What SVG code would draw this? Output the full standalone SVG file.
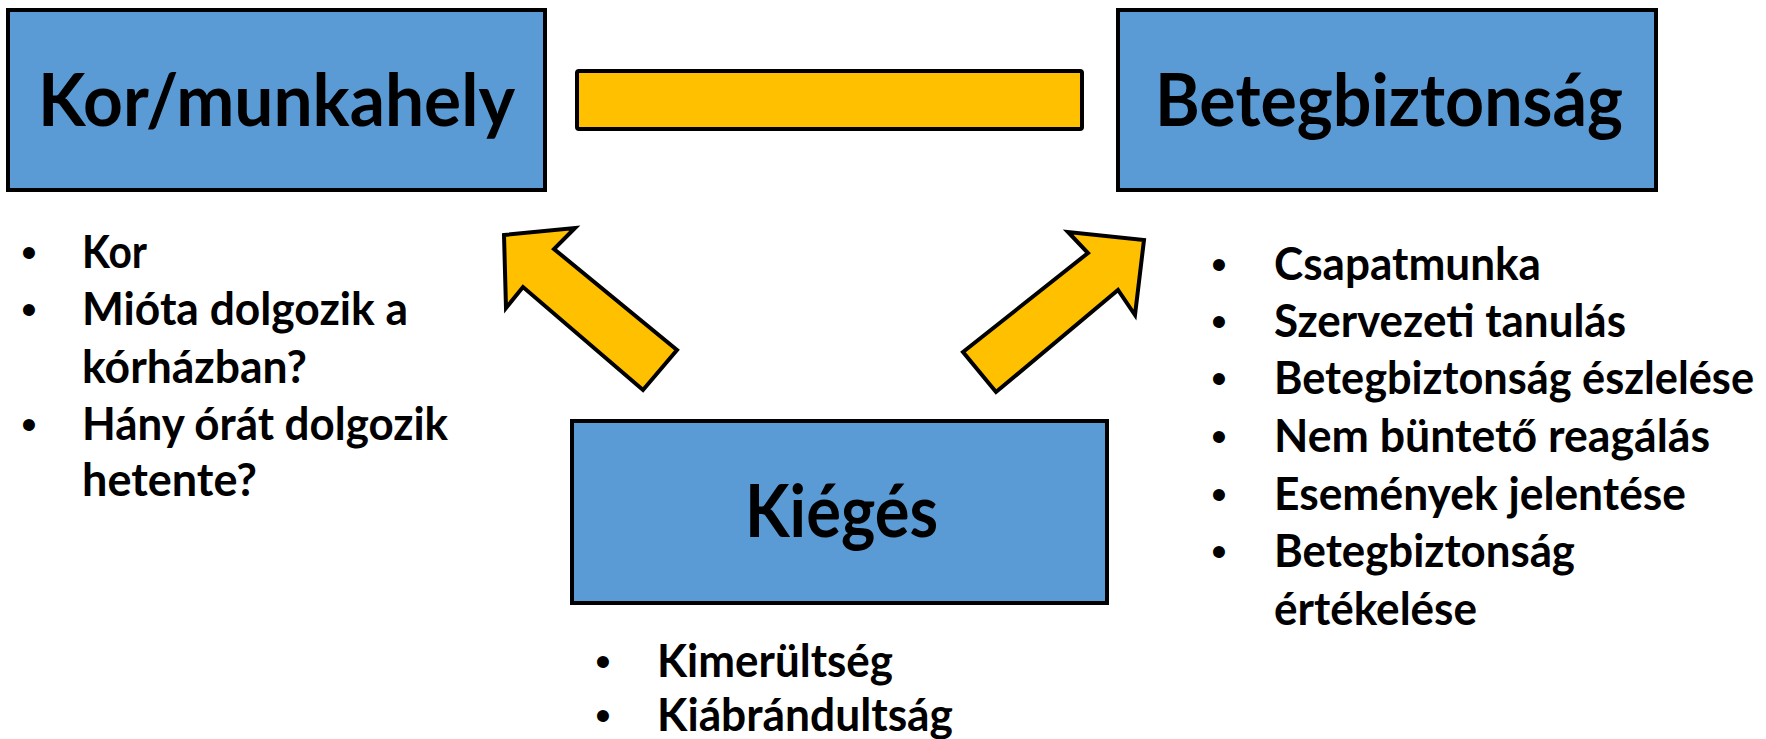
<svg xmlns="http://www.w3.org/2000/svg" width="1766" height="739" viewBox="0 0 1766 739">
<style>
.box{fill:#5B9BD5;stroke:#000;stroke-width:4}
.conn{fill:#FFC000;stroke:#000;stroke-width:4;stroke-linejoin:miter}
.title{font-family:Lato,"Liberation Sans",sans-serif;font-weight:bold;font-size:73px;fill:#000}
.item{font-family:Lato,"Liberation Sans",sans-serif;font-weight:bold;font-size:46px;fill:#000}
.bul{font-family:"Liberation Sans",Arial,sans-serif;font-size:44px;fill:#000;text-anchor:middle}
</style>
<rect width="1766" height="739" fill="#fff"/>
<g id="connectors">
<rect class="conn" x="577" y="71" width="505" height="58" rx="2"/>
<polygon class="conn" points="504,235 575,228 554,249 677,350 643,390 523,287 506,308"/>
<polygon class="conn" points="1144,240 1135,315 1118,290 996,392 963,352 1088,253 1068,232"/>
</g>
<g id="kor-munkahely">
<rect class="box" x="8" y="10" width="537" height="180"/>
<text class="title" x="38" y="126" textLength="477" lengthAdjust="spacingAndGlyphs">Kor/munkahely</text>
</g>
<g id="betegbiztonsag">
<rect class="box" x="1118" y="10" width="538" height="180"/>
<text class="title" x="1155" y="126" textLength="468" lengthAdjust="spacingAndGlyphs">Betegbiztonság</text>
</g>
<g id="kieges">
<rect class="box" x="572" y="421" width="535" height="182"/>
<text class="title" x="745" y="537" textLength="193" lengthAdjust="spacingAndGlyphs">Kiégés</text>
</g>
<g id="list-kor">
<text class="bul" x="29" y="268">•</text>
<text class="item" x="82" y="268" textLength="65" lengthAdjust="spacingAndGlyphs">Kor</text>
<text class="bul" x="29" y="325">•</text>
<text class="item" x="82" y="325" textLength="326" lengthAdjust="spacingAndGlyphs">Mióta dolgozik a</text>
<text class="item" x="82" y="383" textLength="225" lengthAdjust="spacingAndGlyphs">kórházban?</text>
<text class="bul" x="29" y="440">•</text>
<text class="item" x="82" y="440" textLength="366" lengthAdjust="spacingAndGlyphs">Hány órát dolgozik</text>
<text class="item" x="82" y="496" textLength="175" lengthAdjust="spacingAndGlyphs">hetente?</text>
</g>
<g id="list-beteg">
<text class="bul" x="1219" y="280">•</text>
<text class="item" x="1274" y="280" textLength="267" lengthAdjust="spacingAndGlyphs">Csapatmunka</text>
<text class="bul" x="1219" y="337">•</text>
<text class="item" x="1274" y="337" textLength="352" lengthAdjust="spacingAndGlyphs">Szervezeti tanulás</text>
<text class="bul" x="1219" y="394">•</text>
<text class="item" x="1274" y="394" textLength="480" lengthAdjust="spacingAndGlyphs">Betegbiztonság észlelése</text>
<text class="bul" x="1219" y="452">•</text>
<text class="item" x="1274" y="452" textLength="436" lengthAdjust="spacingAndGlyphs">Nem büntető reagálás</text>
<text class="bul" x="1219" y="510">•</text>
<text class="item" x="1274" y="510" textLength="412" lengthAdjust="spacingAndGlyphs">Események jelentése</text>
<text class="bul" x="1219" y="567">•</text>
<text class="item" x="1274" y="567" textLength="301" lengthAdjust="spacingAndGlyphs">Betegbiztonság</text>
<text class="item" x="1274" y="625" textLength="203" lengthAdjust="spacingAndGlyphs">értékelése</text>
</g>
<g id="list-kieges">
<text class="bul" x="603" y="677">•</text>
<text class="item" x="657" y="677" textLength="236" lengthAdjust="spacingAndGlyphs">Kimerültség</text>
<text class="bul" x="603" y="731">•</text>
<text class="item" x="657" y="731" textLength="296" lengthAdjust="spacingAndGlyphs">Kiábrándultság</text>
</g>
</svg>
